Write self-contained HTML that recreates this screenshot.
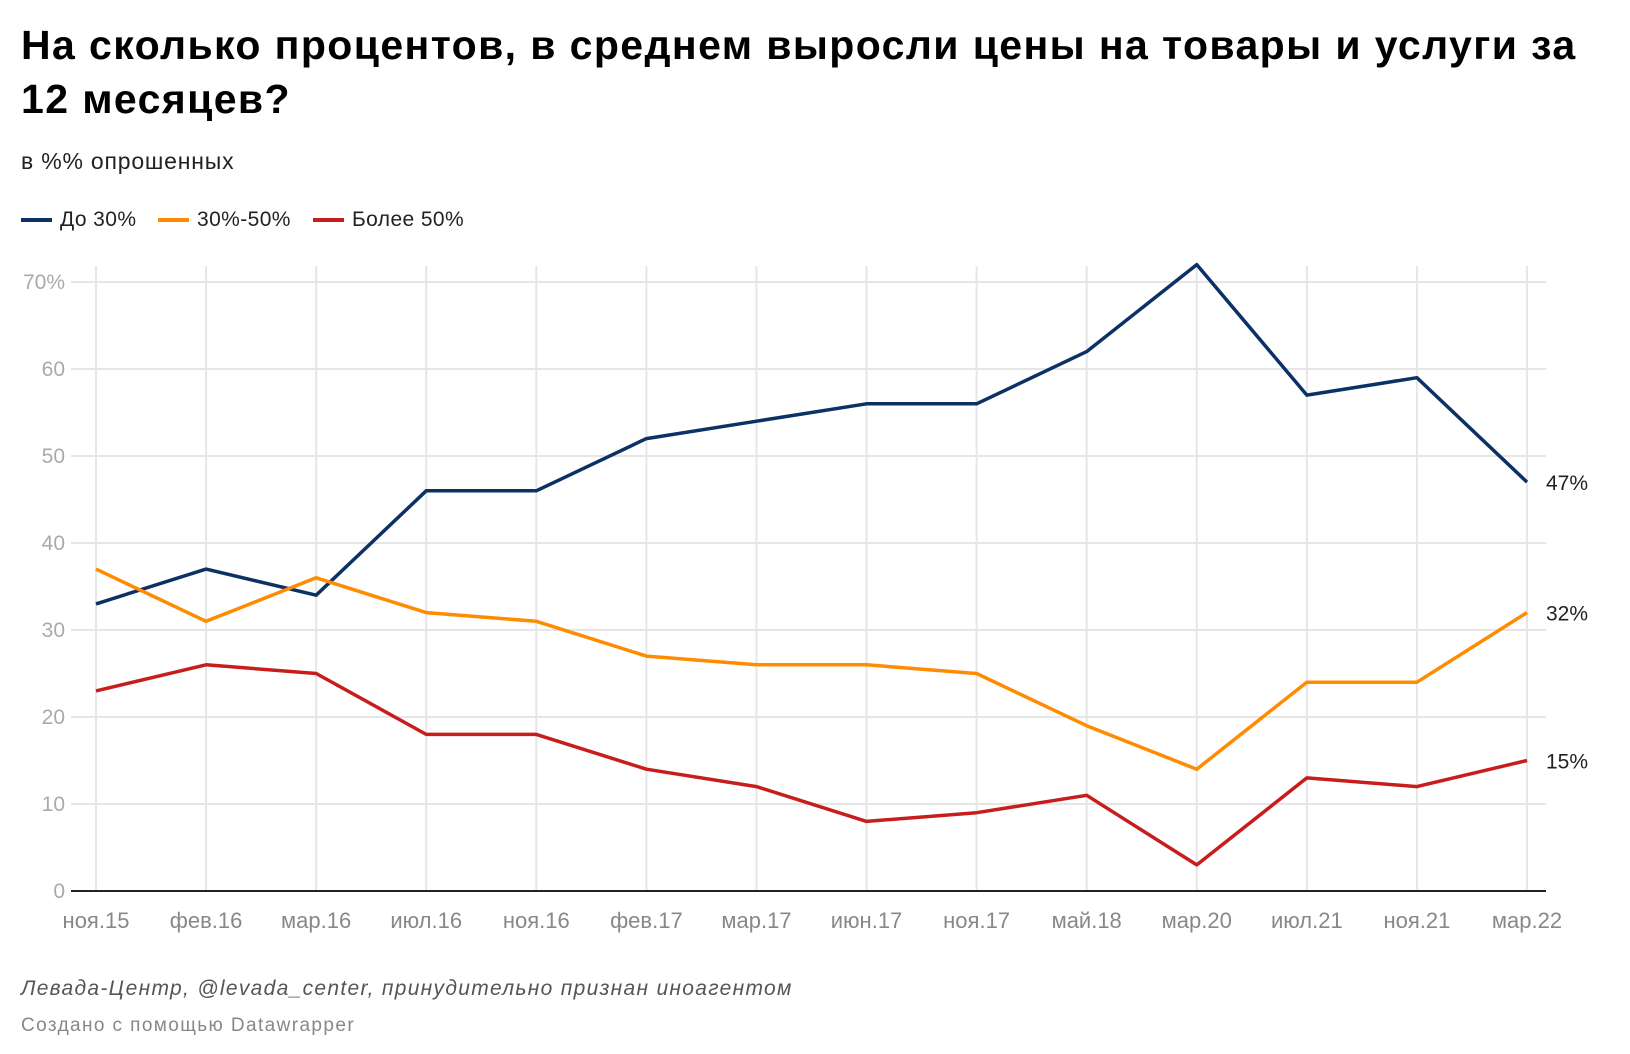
<!DOCTYPE html>
<html><head><meta charset="utf-8"><style>
body{margin:0;background:#fff;width:1630px;height:1054px;overflow:hidden;font-family:"Liberation Sans",sans-serif}
.t{position:absolute;left:21px;top:18px;font-size:41px;letter-spacing:1.4px;font-weight:bold;line-height:54px;color:#000;width:1600px;white-space:nowrap}
.s{position:absolute;left:21px;top:148px;font-size:23px;letter-spacing:0.8px;color:#222}
.lg{position:absolute;top:208px;font-size:21px;letter-spacing:0.4px;color:#222;display:flex;align-items:center}
.lg i{display:inline-block;width:31px;height:4px;margin-right:8px}
.f1{position:absolute;left:21px;top:977px;font-size:21px;letter-spacing:1.3px;font-style:italic;color:#555}
.f2{position:absolute;left:21px;top:1015px;font-size:19px;letter-spacing:1.4px;color:#888}
svg{position:absolute;left:0;top:0}
</style></head><body>
<div class="t">На сколько процентов, в среднем выросли цены на товары и услуги за<br>12 месяцев?</div>
<div class="s">в %% опрошенных</div>
<div class="lg" style="left:21px"><i style="background:#0b3165"></i>До 30%</div>
<div class="lg" style="left:158px"><i style="background:#ff8c00"></i>30%-50%</div>
<div class="lg" style="left:313px"><i style="background:#c71e1d"></i>Более 50%</div>
<svg id="c" width="1630" height="1054"></svg>
<div class="f1">Левада-Центр, @levada_center, принудительно признан иноагентом</div>
<div class="f2">Создано с помощью Datawrapper</div>
<script>
const categories=["ноя.15","фев.16","мар.16","июл.16","ноя.16","фев.17","мар.17","июн.17","ноя.17","май.18","мар.20","июл.21","ноя.21","мар.22"];
const seriesA=[33,37,34,46,46,52,54,56,56,62,72,57,59,47];
const seriesB=[37,31,36,32,31,27,26,26,25,19,14,24,24,32];
const seriesC=[23,26,25,18,18,14,12,8,9,11,3,13,12,15];
const yTicks=[0,10,20,30,40,50,60,70];
const yTickLabels=["0","10","20","30","40","50","60","70%"];
const svg=document.getElementById('c');const NS="http://www.w3.org/2000/svg";
const x0=96,x1=1527,y0=891,y1=282;
const X=i=>x0+(x1-x0)*i/(categories.length-1);
const Y=v=>y0-(y0-y1)*v/70;
function el(t,a){const e=document.createElementNS(NS,t);for(const k in a)e.setAttribute(k,a[k]);svg.appendChild(e);return e;}
categories.forEach((c,i)=>{
 const g=el('line',{x1:X(i),x2:X(i),y1:266,y2:y0,stroke:'#e6e6e6','stroke-width':2});
 
 
 const t=el('text',{x:X(i),y:928,'text-anchor':'middle','font-size':22,fill:'#888','font-family':'Liberation Sans, sans-serif'});
 t.textContent=c;
 
 
});
yTicks.forEach((v,i)=>{
 if(v>0){const g=el('line',{x1:71,x2:1546,y1:Y(v),y2:Y(v),stroke:'#e6e6e6','stroke-width':2});
 
 }
 const t=el('text',{x:65,y:Y(v)+7,'text-anchor':'end','font-size':21,fill:'#aaa','font-family':'Liberation Sans, sans-serif'});
 t.textContent=yTickLabels[i];
 
 
});
const ax=el('line',{x1:71,x2:1546,y1:y0,y2:y0,stroke:'#222','stroke-width':2});


[[seriesA,'#0b3165','series-do-30'],[seriesB,'#ff8c00','series-30-50'],[seriesC,'#c71e1d','series-bolee-50']].forEach(([d,col,n])=>{
 const p=el('polyline',{points:d.map((v,i)=>X(i)+','+Y(v)).join(' '),fill:'none',stroke:col,'stroke-width':3.5,'stroke-linejoin':'round'});
 
 
 const last=d[d.length-1];
 const t=el('text',{x:1546,y:Y(last)+8,'font-size':21,fill:'#222','font-family':'Liberation Sans, sans-serif'});
 t.textContent=last+'%';
 
 
});
</script>
</body></html>
